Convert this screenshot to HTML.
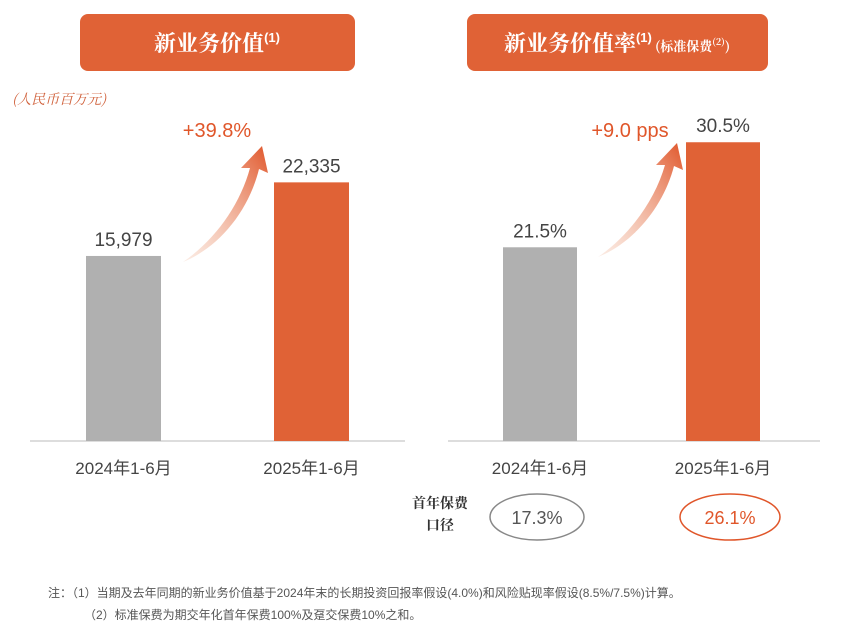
<!DOCTYPE html>
<html><head><meta charset="utf-8"><style>
body{margin:0;width:846px;height:630px;background:#fff;overflow:hidden;font-family:"Liberation Sans","Noto Sans CJK SC",sans-serif;}
svg{display:block}
</style></head><body>
<svg width="846" height="630" xmlns="http://www.w3.org/2000/svg">
<defs>
<linearGradient id="ag" x1="0" y1="1" x2="1" y2="0"><stop offset="0" stop-color="#f3c1a8" stop-opacity="0.3"/><stop offset="1" stop-color="#e0562a"/></linearGradient>
</defs>
<rect x="80" y="14" width="275" height="57" rx="8" fill="#e06236"/>
<text x="217" y="51" text-anchor="middle" font-size="22" font-weight="bold" fill="#fff" font-family="Noto Serif CJK SC,serif">新业务价值<tspan font-size="13" dy="-9" font-family="Liberation Sans">(1)</tspan></text>
<rect x="467" y="14" width="301" height="57" rx="8" fill="#e06236"/>
<text x="617" y="51" text-anchor="middle" font-size="22" font-weight="bold" fill="#fff" font-family="Noto Serif CJK SC,serif">新业务价值率<tspan font-size="13" dy="-9" font-family="Liberation Sans">(1)</tspan><tspan font-size="13" dy="9"> (标准保费</tspan><tspan font-size="9" dy="-6">(2)</tspan><tspan font-size="13" dy="6">)</tspan></text>
<text x="12" y="104" font-size="14" font-style="italic" fill="#d0603a" font-family="Noto Serif CJK SC,serif">(人民币百万元)</text>
<line x1="30" y1="441" x2="405" y2="441" stroke="#ddd" stroke-width="2"/>
<line x1="448" y1="441" x2="820" y2="441" stroke="#ddd" stroke-width="2"/>
<g id="left"></g><g id="right"></g>
<path d="M183 262 C215 240 240 205 250 168 L241 168 L262 146 L268 173 L259 169 C249 210 220 247 183 262Z" fill="url(#ag)"/>
<text x="217" y="137" text-anchor="middle" font-size="20" fill="#e0562a">+39.8%</text>
<path d="M598 257 C630 235 655 200 665 165 L656 165 L677 143 L683 170 L674 166 C664 205 635 242 598 257Z" fill="url(#ag)"/>
<text x="630" y="137" text-anchor="middle" font-size="20" fill="#e0562a">+9.0 pps</text>
<text x="440" y="508" text-anchor="middle" font-size="14" font-weight="bold" fill="#333" font-family="Noto Serif CJK SC,serif">首年保费</text>
<text x="440" y="530" text-anchor="middle" font-size="14" font-weight="bold" fill="#333" font-family="Noto Serif CJK SC,serif">口径</text>
<ellipse cx="537" cy="517" rx="47" ry="23" fill="none" stroke="#888" stroke-width="1.5"/>
<text x="537" y="524" text-anchor="middle" font-size="18" fill="#555">17.3%</text>
<ellipse cx="730" cy="517" rx="50" ry="23" fill="none" stroke="#e0562a" stroke-width="1.5"/>
<text x="730" y="524" text-anchor="middle" font-size="18" fill="#e0562a">26.1%</text>
<text x="48" y="597" font-size="12" fill="#555">注：（1）当期及去年同期的新业务价值基于2024年末的长期投资回报率假设(4.0%)和风险贴现率假设(8.5%/7.5%)计算。</text>
<text x="84" y="619" font-size="12" fill="#555">（2）标准保费为期交年化首年保费100%及趸交保费10%之和。</text>
</svg>
<script>
const categories=["2024年1-6月","2025年1-6月"];
const nbvValues=[15979,22335];
const nbvLabels=["15,979","22,335"];
const marginValues=[21.5,30.5];
const marginLabels=["21.5%","30.5%"];
const colors=["#b0b0b0","#e06236"];
const NS="http://www.w3.org/2000/svg";
const base=441;
function yNbv(v){return base-v*0.01158;}
function yMargin(v){return base-(v-4.9)*11.67;}
function draw(gid,vals,labels,yf,xs,w,prefix){
  const g=document.getElementById(gid);
  vals.forEach((v,i)=>{
    const r=document.createElementNS(NS,"rect");
    r.setAttribute("x",xs[i]);r.setAttribute("y",yf(v));r.setAttribute("width",w);r.setAttribute("height",base-yf(v));r.setAttribute("fill",colors[i]);
    
    
    g.appendChild(r);
    const t=document.createElementNS(NS,"text");
    t.setAttribute("x",xs[i]+w/2);t.setAttribute("y",yf(v)-10);t.setAttribute("text-anchor","middle");t.setAttribute("font-size","19");t.setAttribute("fill","#444");
    t.textContent=labels[i];
    
    
    g.appendChild(t);
    const c=document.createElementNS(NS,"text");
    c.setAttribute("x",xs[i]+w/2);c.setAttribute("y",474);c.setAttribute("text-anchor","middle");c.setAttribute("font-size","17");c.setAttribute("fill","#444");
    c.textContent=categories[i];
    
    
    g.appendChild(c);
  });
}
draw("left",nbvValues,nbvLabels,yNbv,[86,274],75,"nbv");
draw("right",marginValues,marginLabels,yMargin,[503,686],74,"margin");
</script>
</body></html>
